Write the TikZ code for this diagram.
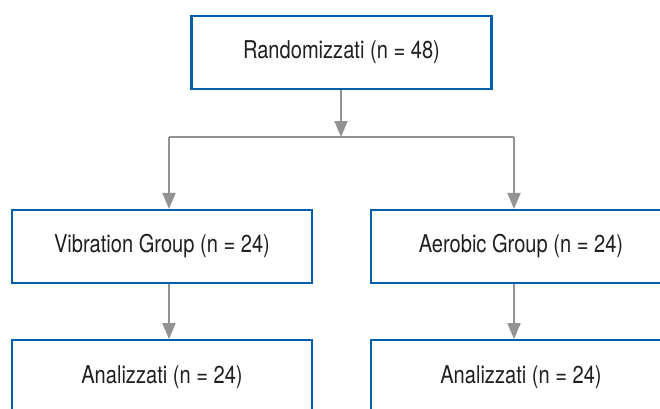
\documentclass[tikz,border=0pt]{standalone}
\usepackage{fontspec}
\setmainfont[FakeStretch=0.82]{TeX Gyre Heros}
\usepackage{xcolor}
\usepackage{tikz}
\usetikzlibrary{arrows.meta,positioning,calc}

\definecolor{boxblue}{RGB}{0,94,172}
\definecolor{linegray}{RGB}{147,147,147}
\definecolor{textdark}{RGB}{35,31,32}

\begin{document}
\begin{tikzpicture}[
    x=1pt,y=-1pt,
    >={Triangle[length=16pt,width=13pt]},
    flow/.style={->,line width=2pt,draw=linegray},
    link/.style={line width=2pt,draw=linegray},
    stage/.style={draw=boxblue,line width=2.2pt,fill=white,
      minimum width=300pt,minimum height=73pt,align=center,
      text=textdark,font=\fontsize{24.5}{28}\selectfont}
  ]
    \useasboundingbox (0,0) rectangle (660,408);
    \node[stage] (rand) at (341.5,52.5) {Randomizzati (n = 48)};
    \node[stage] (vib) at (162,246.5) {Vibration Group (n = 24)};
    \node[stage] (aer) at (521,246.5) {Aerobic Group (n = 24)};
    \node[stage,below=55pt of vib] (anavib) {Analizzati (n = 24)};
    \node[stage,below=55pt of aer] (anaaer) {Analizzati (n = 24)};
    % split point and branch corners
    \coordinate (split) at (341,137);
    \coordinate (leftend) at (169,137);
    \coordinate (rightend) at (514,137);
    \draw[flow] (rand.south -| split) -- (split);
    \draw[link] (leftend) -- (rightend);
    \draw[flow] (leftend) -- (vib.north -| leftend);
    \draw[flow] (rightend) -- (aer.north -| rightend);
    \draw[flow] (vib.south -| leftend) -- (anavib.north -| leftend);
    \draw[flow] (aer.south -| rightend) -- (anaaer.north -| rightend);
  \end{tikzpicture}
\end{document}
